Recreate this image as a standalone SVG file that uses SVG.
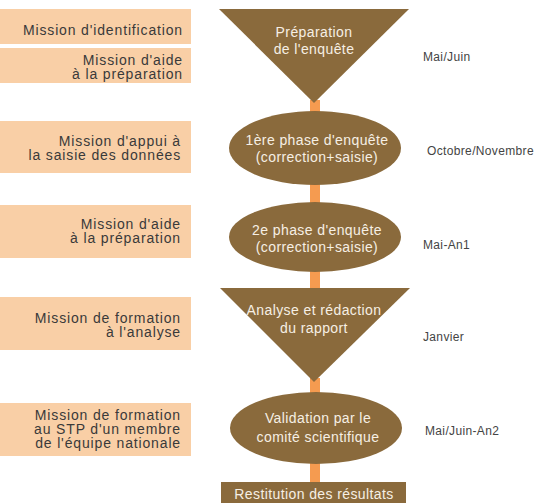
<svg xmlns="http://www.w3.org/2000/svg" width="539" height="503" viewBox="0 0 539 503">
<style>
.box{fill:#f9cfa6}
.shape{fill:#8a6a3c}
.conn{stroke:#f59b50;stroke-width:10;fill:none}
.lt{font-family:"Liberation Sans",Arial,sans-serif;font-size:14px;letter-spacing:0.85px;fill:#3a3a3a;text-anchor:end}
.ct{font-family:"Liberation Sans",Arial,sans-serif;font-size:14px;letter-spacing:0.4px;fill:#f6efe4;text-anchor:middle}
.rt{font-family:"Liberation Sans",Arial,sans-serif;font-size:12px;letter-spacing:0.35px;fill:#444}
</style>
<g id="connectors">
<line class="conn" x1="315" y1="100" x2="315" y2="113"/>
<line class="conn" x1="315" y1="183" x2="315" y2="204"/>
<line class="conn" x1="315" y1="270" x2="315" y2="290"/>
<line class="conn" x1="315" y1="378" x2="315" y2="394"/>
<line class="conn" x1="315" y1="462" x2="315" y2="483"/>
</g>
<g id="box1"><rect class="box" x="0" y="9" width="191" height="35"/><text class="lt" x="183" y="35">Mission d'identification</text></g>
<g id="box2"><rect class="box" x="0" y="48" width="191" height="35"/><text class="lt" x="183" y="65">Mission d'aide</text><text class="lt" x="183" y="79">à la préparation</text></g>
<g id="box3"><rect class="box" x="0" y="121" width="191" height="52"/><text class="lt" x="181" y="146">Mission d'appui à</text><text class="lt" x="181" y="160">la saisie des données</text></g>
<g id="box4"><rect class="box" x="0" y="205" width="191" height="53"/><text class="lt" x="181" y="229">Mission d'aide</text><text class="lt" x="181" y="243">à la préparation</text></g>
<g id="box5"><rect class="box" x="0" y="297" width="191" height="53"/><text class="lt" x="181" y="323">Mission de formation</text><text class="lt" x="181" y="337">à l'analyse</text></g>
<g id="box6"><rect class="box" x="0" y="403" width="191" height="53"/><text class="lt" x="181" y="420">Mission de formation</text><text class="lt" x="181" y="434">au STP d'un membre</text><text class="lt" x="181" y="448">de l'équipe nationale</text></g>
<g id="preparation"><polygon class="shape" points="219,9 409,9 314,103"/><text class="ct" x="314" y="37">Préparation</text><text class="ct" x="314" y="54">de l'enquête</text></g>
<g id="phase1"><ellipse class="shape" cx="315" cy="148" rx="86" ry="37"/><text class="ct" x="317" y="145">1ère phase d'enquête</text><text class="ct" x="317" y="162">(correction+saisie)</text></g>
<g id="phase2"><ellipse class="shape" cx="315" cy="237" rx="86" ry="35"/><text class="ct" x="317" y="235">2e phase d'enquête</text><text class="ct" x="317" y="252">(correction+saisie)</text></g>
<g id="analyse"><polygon class="shape" points="220,288 410,288 314,382"/><text class="ct" x="314" y="315">Analyse et rédaction</text><text class="ct" x="314" y="333">du rapport</text></g>
<g id="validation"><ellipse class="shape" cx="316" cy="428" rx="86" ry="36"/><text class="ct" x="318" y="423">Validation par le</text><text class="ct" x="318" y="442">comité scientifique</text></g>
<g id="restitution"><rect class="shape" x="221" y="482" width="185" height="21"/><text class="ct" x="314" y="499">Restitution des résultats</text></g>
<g id="dates">
<text class="rt" x="423" y="61">Mai/Juin</text>
<text class="rt" x="427" y="155">Octobre/Novembre</text>
<text class="rt" x="423" y="249">Mai-An1</text>
<text class="rt" x="423" y="341">Janvier</text>
<text class="rt" x="425" y="435">Mai/Juin-An2</text>
</g>
</svg>
